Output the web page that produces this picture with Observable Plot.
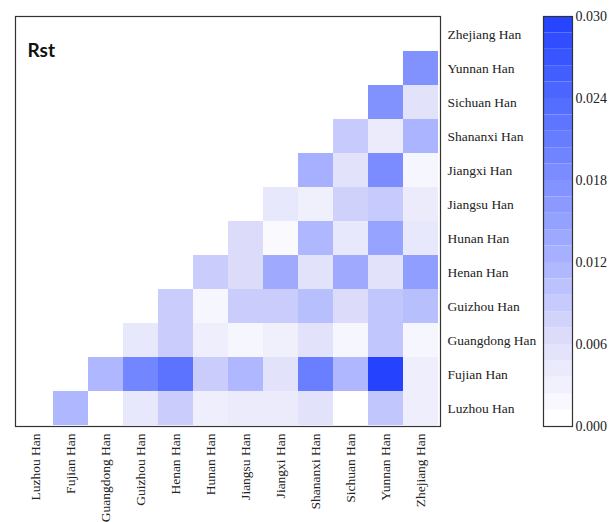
<!DOCTYPE html>
<html>
<head>
<meta charset="utf-8">
<script src="https://cdn.jsdelivr.net/npm/d3@7"></script>
<script src="https://cdn.jsdelivr.net/npm/@observablehq/plot@0.6"></script>
<style>
  html, body { margin: 0; padding: 0; background: #fff; }
  #chart { position: relative; width: 609px; height: 522px; }
  #chart svg { position: absolute; top: 0; }
</style>
</head>
<body>
<div id="chart"></div>
<script>
// Populations, in column order (left to right); rows run the other way
const populations = ["Luzhou Han", "Fujian Han", "Guangdong Han", "Guizhou Han", "Henan Han", "Hunan Han",
  "Jiangsu Han", "Jiangxi Han", "Shananxi Han", "Sichuan Han", "Yunnan Han", "Zhejiang Han"];

// Pairwise Rst of each population against every population listed after it
const luzhou    = [0.011, 0.000, 0.004, 0.008, 0.003, 0.0035, 0.0035, 0.005, 0.000, 0.009, 0.003];
const fujian    = [0.011, 0.019, 0.022, 0.008, 0.011, 0.005, 0.020, 0.011, 0.029, 0.003];
const guangdong = [0.004, 0.008, 0.003, 0.0015, 0.0025, 0.005, 0.0015, 0.009, 0.0015];
const guizhou   = [0.008, 0.0015, 0.008, 0.008, 0.010, 0.006, 0.009, 0.010];
const henan     = [0.008, 0.006, 0.013, 0.005, 0.013, 0.005, 0.015];
const hunan     = [0.006, 0.001, 0.011, 0.004, 0.014, 0.004];
const jiangsu   = [0.004, 0.0025, 0.0075, 0.0085, 0.0035];
const jiangxi   = [0.012, 0.005, 0.018, 0.0015];
const shananxi  = [0.0085, 0.0035, 0.0115];
const sichuan   = [0.017, 0.005];
const yunnan    = [0.017];

const rstRows = [luzhou, fujian, guangdong, guizhou, henan, hunan, jiangsu, jiangxi, shananxi, sichuan, yunnan];

// Color bar ticks and steps
const colorTicks = [0, 0.006, 0.012, 0.018, 0.024, 0.030];
const colorStep = 0.0012;

// Long table: one cell per pair (row population i, column population j > i)
const cells = rstRows.flatMap((vals, i) =>
  vals.map((v, k) => ({row: populations[i], col: populations[i + 1 + k], rst: v}))
);

const colorScale = {
  type: "linear",
  domain: colorTicks,
  range: ["#ffffff", "#dcdcfa", "#a6b0ff", "#7a8cff", "#4b66ff", "#1e3cff"],
  interpolate: "rgb"
};

const serif = "'Liberation Serif', 'Times New Roman', serif";

const heat = Plot.plot({
  width: 609,
  height: 522,
  marginLeft: 15,
  marginRight: 169,
  marginTop: 16,
  marginBottom: 96,
  style: {fontFamily: serif, fontSize: "13.5px", color: "#222", background: "transparent"},
  x: {type: "band", domain: populations, padding: 0},
  y: {type: "band", domain: [...populations].reverse(), padding: 0},
  color: colorScale,
  marks: [
    Plot.cell(cells, {x: "col", y: "row", fill: "rst", inset: 0}),
    Plot.frame({stroke: "#333", strokeWidth: 1.2}),
    Plot.axisX({tickRotate: -90, tickSize: 0, tickPadding: 7, label: null}),
    Plot.axisY({anchor: "right", tickSize: 0, tickPadding: 7, label: null}),
    Plot.text(["Rst"], {
      frameAnchor: "top-left", dx: 12, dy: 34, text: d => d,
      fontFamily: "Lato, 'Open Sans', sans-serif", fontWeight: "bold", fontSize: 19,
      lineAnchor: "middle", textAnchor: "start", fill: "#111"
    })
  ]
});

const bands = d3.range(25).map(i => i * colorStep);

const bar = Plot.plot({
  width: 73,
  height: 522,
  marginLeft: 7,
  marginRight: 37,
  marginTop: 16,
  marginBottom: 96,
  style: {fontFamily: serif, fontSize: "14px", color: "#222", background: "transparent", overflow: "visible"},
  x: {domain: [0, 1], axis: null},
  y: {domain: [0, 0.030]},
  color: colorScale,
  marks: [
    Plot.rect(bands, {x1: 0, x2: 1, y1: d => d, y2: d => d + colorStep, fill: d => d}),
    Plot.frame({stroke: "#333", strokeWidth: 1.2}),
    Plot.axisY({anchor: "right", ticks: colorTicks, tickFormat: d3.format(".3f"), tickSize: 0, tickPadding: 3, label: null})
  ]
});
bar.style.left = "536px";

const chart = document.getElementById("chart");
chart.appendChild(heat);
chart.appendChild(bar);
</script>
</body>
</html>
